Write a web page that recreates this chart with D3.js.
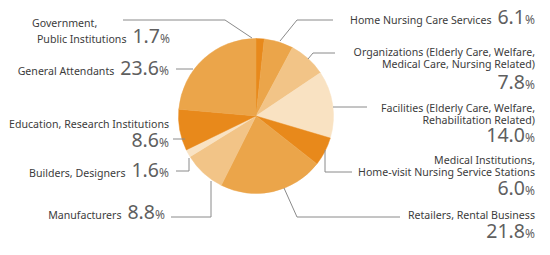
<!DOCTYPE html>
<html>
<head>
<meta charset="utf-8">
<script src="https://cdn.jsdelivr.net/npm/d3@7"></script>
<style>
  html, body { margin: 0; padding: 0; background: #fff; }
  svg { display: block; }
</style>
</head>
<body>
<svg id="chart" width="550" height="255"></svg>
<script>
// ---- data ----
const categories = [
  "Government, Public Institutions",
  "Home Nursing Care Services",
  "Organizations (Elderly Care, Welfare, Medical Care, Nursing Related)",
  "Facilities (Elderly Care, Welfare, Rehabilitation Related)",
  "Medical Institutions, Home-visit Nursing Service Stations",
  "Retailers, Rental Business",
  "Manufacturers",
  "Builders, Designers",
  "Education, Research Institutions",
  "General Attendants"
];
const shares = [1.7, 6.1, 7.8, 14.0, 6.0, 21.8, 8.8, 1.6, 8.6, 23.6];
const valueLabels = ["1.7", "6.1", "7.8", "14.0", "6.0", "21.8", "8.8", "1.6", "8.6", "23.6"];
const labelLines = [
  ["Government,", "Public Institutions"],
  ["Home Nursing Care Services"],
  ["Organizations (Elderly Care, Welfare,", "Medical Care, Nursing Related)"],
  ["Facilities (Elderly Care, Welfare,", "Rehabilitation Related)"],
  ["Medical Institutions,", "Home-visit Nursing Service Stations"],
  ["Retailers, Rental Business"],
  ["Manufacturers"],
  ["Builders, Designers"],
  ["Education, Research Institutions"],
  ["General Attendants"]
];

// ---- layout (positions / styles only) ----
const palette = ["#E8891B", "#EBA54A", "#F2C487", "#F9E2C2"];
const shadeIndex = [0, 1, 2, 3, 0, 1, 2, 3, 0, 1];
const cx = 256, cy = 116, R = 77.5;
const labelLayout = [
  { side: "left",  x: 170, ys: [27, 43], inline: true, firstStart: 32 },
  { side: "right", x: 535, ys: [24], inline: true },
  { side: "right", x: 535, ys: [56, 68, 89], inline: false },
  { side: "right", x: 535, ys: [112, 124, 142], inline: false },
  { side: "right", x: 535, ys: [164, 176, 195], inline: false },
  { side: "right", x: 535, ys: [219, 238], inline: false },
  { side: "left",  x: 165, ys: [219], inline: true },
  { side: "left",  x: 169, ys: [177], inline: true },
  { side: "left",  x: 169, ys: [128, 147], inline: false },
  { side: "left",  x: 169, ys: [75], inline: true }
];
const leaders = [
  [[252, 38], [225, 20], [123, 20]],
  [[280, 41], [297, 20], [333, 20]],
  [[308, 59], [313, 53], [335, 53]],
  [[333, 107], [367, 107]],
  [[325, 150], [325, 172], [352, 172]],
  [[284, 188], [297, 217], [400, 217]],
  [[211, 181], [211, 217], [171, 217]],
  [[189, 158], [189, 171], [176, 171]],
  [[185, 139], [173, 139]],
  [[193, 69], [176, 69]]
];

const svg = d3.select("#chart");
const font = "'Noto Sans', 'Open Sans', sans-serif";

// ---- pie ----
const pie = d3.pie().sort(null).value(d => d).startAngle(0).endAngle(2 * Math.PI);
const arc = d3.arc().innerRadius(0).outerRadius(R);
const color = d3.scaleOrdinal().domain(d3.range(palette.length)).range(palette);

svg.append("g")
  .attr("transform", `translate(${cx},${cy})`)
  .selectAll("path")
  .data(pie(shares))
  .join("path")
  .attr("d", arc)
  .attr("fill", (d, i) => color(shadeIndex[i]))
  .attr("stroke", (d, i) => color(shadeIndex[i]))
  .attr("stroke-width", 0.5);

// ---- leader lines ----
const line = d3.line();
svg.append("g")
  .selectAll("path")
  .data(leaders)
  .join("path")
  .attr("d", line)
  .attr("fill", "none")
  .attr("stroke", "#8a8a8a")
  .attr("stroke-width", 1);

// ---- labels ----
const lg = svg.append("g").attr("font-family", font);
categories.forEach((cat, i) => {
  const L = labelLayout[i];
  const lines = labelLines[i];
  const nLines = lines.length;
  lines.forEach((txt, k) => {
    const isLast = k === nLines - 1;
    const t = lg.append("text")
      .attr("y", L.ys[k])
      .attr("fill", "#3c3c3c")
      .attr("font-size", 10.6);
    if (L.firstStart !== undefined && k === 0) {
      t.attr("x", L.firstStart).attr("text-anchor", "start").text(txt);
      return;
    }
    t.attr("x", L.x).attr("text-anchor", "end");
    t.append("tspan").text(txt);
    if (isLast && L.inline) {
      t.append("tspan").attr("dx", 6).attr("font-size", 19.5).attr("fill", "#5f5f5f").text(valueLabels[i]);
      t.append("tspan").attr("font-size", 12).attr("fill", "#5f5f5f").text("%");
    }
  });
  if (!L.inline) {
    const t = lg.append("text")
      .attr("x", L.x).attr("y", L.ys[nLines]).attr("text-anchor", "end")
      .attr("fill", "#5f5f5f");
    t.append("tspan").attr("font-size", 19.5).text(valueLabels[i]);
    t.append("tspan").attr("font-size", 12).text("%");
  }
});
</script>
</body>
</html>
